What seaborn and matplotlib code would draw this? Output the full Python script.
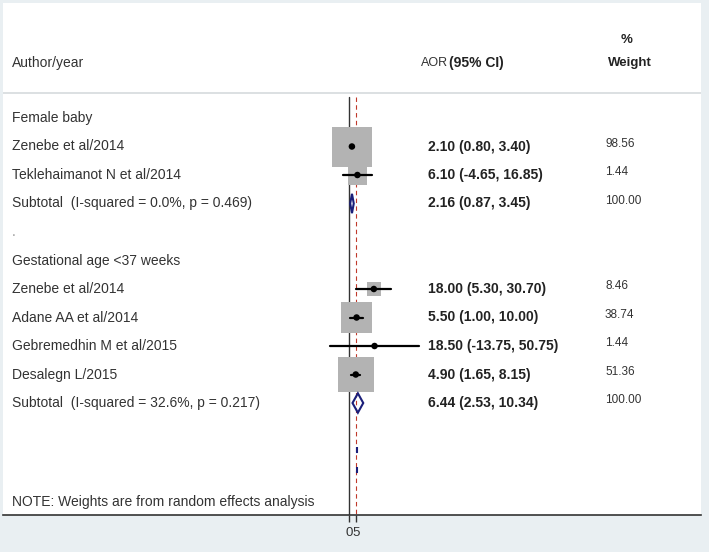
import numpy as np
import seaborn as sns
import matplotlib.pyplot as plt
from matplotlib.patches import Rectangle, Polygon

# --- data ---
row_labels = ["Female baby", "Zenebe et al/2014", "Teklehaimanot N et al/2014",
              "Subtotal  (I-squared = 0.0%, p = 0.469)", ".",
              "Gestational age <37 weeks", "Zenebe et al/2014", "Adane AA et al/2014",
              "Gebremedhin M et al/2015", "Desalegn L/2015",
              "Subtotal  (I-squared = 32.6%, p = 0.217)"]
row_kind = ["head", "study", "study", "sub", "blank", "head",
            "study", "study", "study", "study", "sub"]
es = [None, 2.10, 6.10, 2.16, None, None, 18.00, 5.50, 18.50, 4.90, 6.44]
lo = [None, 0.80, -4.65, 0.87, None, None, 5.30, 1.00, -13.75, 1.65, 2.53]
hi = [None, 3.40, 16.85, 3.45, None, None, 30.70, 10.00, 50.75, 8.15, 10.34]
weight = [None, "98.56", "1.44", "100.00", None, None,
          "8.46", "38.74", "1.44", "51.36", "100.00"]
# relative box areas as drawn in the picture (largest box = 100)
box_wt = [0, 100, 24, 0, 0, 0, 13, 60, 0, 79, 0]
overall_es = 5.2
xticks = [0, 5]

# --- layout helpers (pixel geometry of the reference) ---
W, H = 709, 552
px_per_unit = 1.38      # x scale
row_px = 28.5           # row spacing
x0_px = 349             # pixel of x = 0
row0_px = 118           # pixel of first row
left_px, right_px, top_px, bot_px = 3, 701, 3, 515

def xv(px):
    return (px - x0_px) / px_per_unit

def yv(px):
    return (px - row0_px) / row_px

sns.set_theme(style="white")
plt.rcParams['font.family'] = ['Liberation Sans', 'DejaVu Sans']

fig = plt.figure(figsize=(W / 100, H / 100), dpi=100, facecolor="#e9eff2")
ax = fig.add_axes([left_px / W, 1 - bot_px / H,
                   (right_px - left_px) / W, (bot_px - top_px) / H])
ax.set_facecolor("white")
ax.set_xlim(xv(left_px), xv(right_px))
ax.set_ylim(yv(bot_px), yv(top_px))

rows = np.arange(len(row_labels))
txt_col = "#333333"

# header
ax.text(xv(12), yv(63), "Author/year", fontsize=10, color=txt_col, va="center")
ax.text(xv(421), yv(63), "AOR", fontsize=9, color=txt_col, va="center")
ax.text(xv(449), yv(63), "(95% CI)", fontsize=10, color="#222222",
        va="center", fontweight="bold")
ax.text(xv(621), yv(40), "%", fontsize=9.5, color="#222222", va="center",
        fontweight="bold")
ax.text(xv(608), yv(63), "Weight", fontsize=9.5, color="#222222", va="center",
        fontweight="bold")
ax.axhline(yv(93), color="#d5dadd", lw=1.2)

# reference lines
ax.plot([0, 0], [yv(97), yv(bot_px)], color="#333333", lw=1.0, zorder=1)
ax.plot([overall_es, overall_es], [yv(97), yv(bot_px)], color="#c0392b",
        lw=0.8, dashes=(4, 3), zorder=1)

# boxes
for r, k, e, w in zip(rows, row_kind, es, box_wt):
    if k == "study" and w > 0:
        side = 40 * np.sqrt(w / 100)
        ax.add_patch(Rectangle((e - side / 2 / px_per_unit, r - side / 2 / row_px),
                               side / px_per_unit, side / row_px,
                               facecolor="#b3b3b3", edgecolor="none", zorder=2))

# confidence intervals and points
df_st = [(r, e, l, h) for r, k, e, l, h in zip(rows, row_kind, es, lo, hi) if k == "study"]
for r, e, l, h in df_st:
    ax.plot([l, h], [r, r], color="black", lw=1.6, zorder=3)
sns.scatterplot(x=[d[1] for d in df_st], y=[d[0] for d in df_st], ax=ax,
                color="black", s=22, edgecolor="none", zorder=4, legend=False)

# subtotal diamonds
for r, k, e, l, h in zip(rows, row_kind, es, lo, hi):
    if k == "sub":
        hh = 0.34
        ax.add_patch(Polygon([[l, r], [e, r - hh], [h, r], [e, r + hh]],
                             closed=True, facecolor="none", edgecolor="#1b1f7a",
                             lw=1.5, zorder=3))

# faint dashed remnant of the overall diamond
ax.plot([overall_es + 0.6, overall_es + 0.6], [yv(447), yv(474)], color="#1b1f7a",
        lw=1.5, dashes=(2.9, 6.7), zorder=3)

# text columns
for r, k, lab, e, l, h, w in zip(rows, row_kind, row_labels, es, lo, hi, weight):
    ax.text(xv(12), r, lab, fontsize=10, color=txt_col if lab != "." else "#999999",
            va="center")
    if e is not None:
        ax.text(xv(428), r, f"{e:.2f} ({l:.2f}, {h:.2f})", fontsize=10,
                color="#222222", va="center", fontweight="bold")
        ax.text(xv(605), r - 0.1, w, fontsize=8.5, color="#333333", va="center")

ax.text(xv(12), yv(502), "NOTE: Weights are from random effects analysis",
        fontsize=10, color=txt_col, va="center")

# axis styling
for s in ["top", "left", "right"]:
    ax.spines[s].set_visible(False)
ax.spines["bottom"].set_color("#333333")
ax.spines["bottom"].set_linewidth(1.2)
ax.set_yticks([])
ax.set_xticks(xticks)
ax.set_xticklabels([str(t) for t in xticks], fontsize=9.5, color="#333333")
ax.tick_params(axis="x", direction="out", length=5, width=1, color="#333333",
               pad=4, bottom=True)

fig.savefig("out.png", dpi=100, facecolor=fig.get_facecolor())
